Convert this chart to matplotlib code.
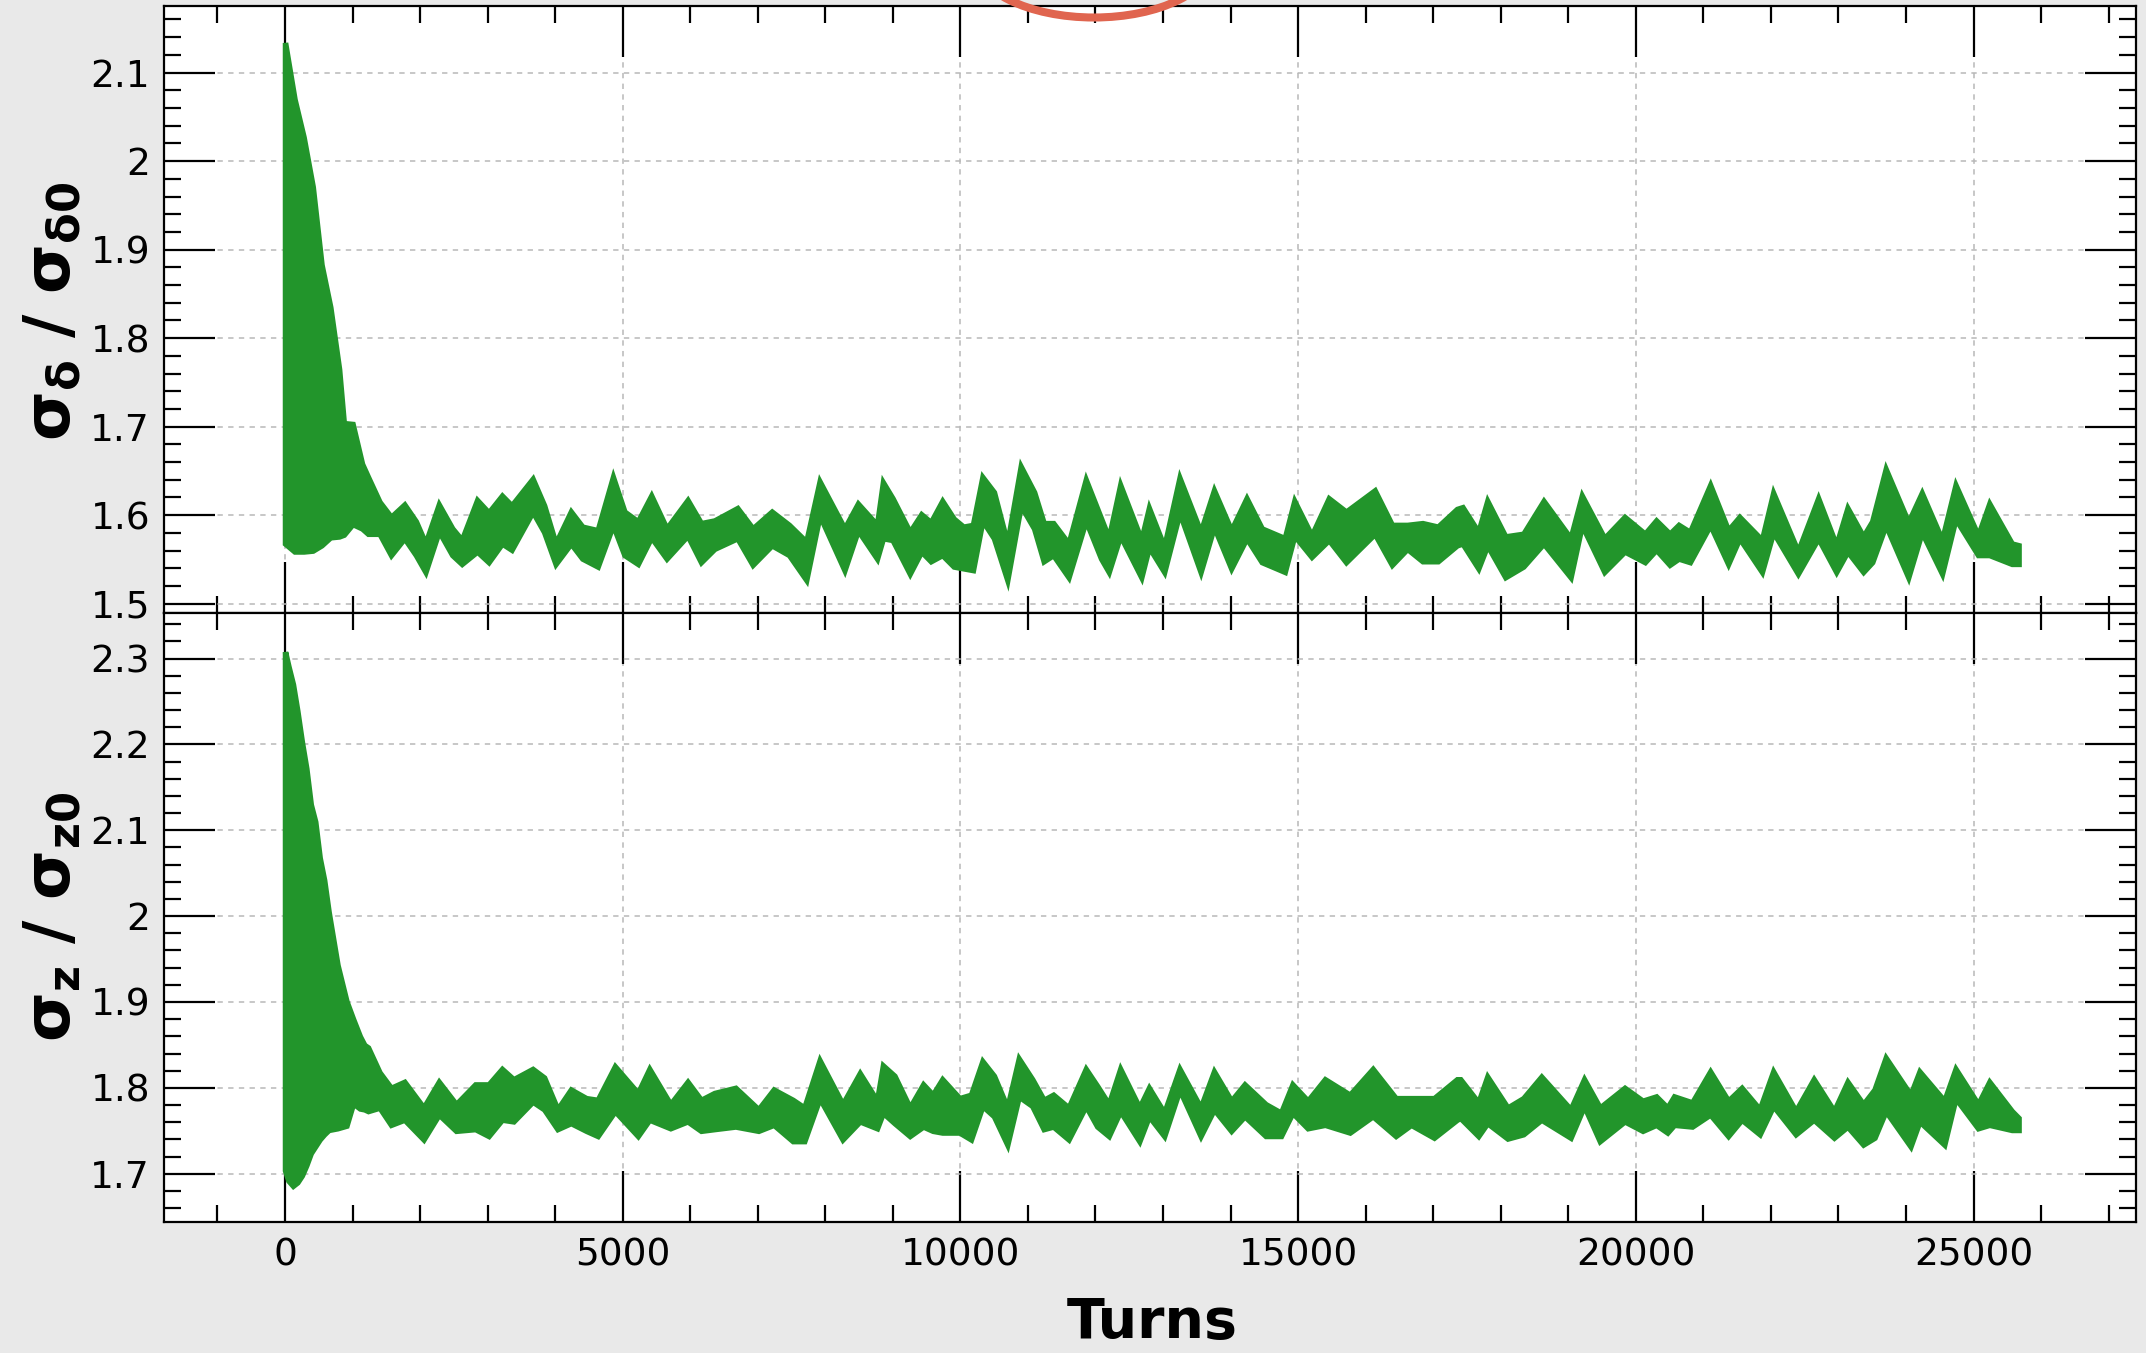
import matplotlib
matplotlib.use('Agg')
import matplotlib.pyplot as plt
from matplotlib.ticker import MultipleLocator, FixedLocator, FixedFormatter
from matplotlib.patches import Ellipse

# ---------------- data ----------------
turns_top = [0, 140, 275, 410, 540, 670, 800, 870, 1000, 1140,
             1229, 1399, 1569, 1767, 1937, 2079, 2277, 2476, 2617, 2844,
             3014, 3212, 3354, 3666, 3836, 4006, 4232, 4402, 4629, 4855,
             5025, 5224, 5422, 5649, 5960, 6159, 6357, 6697, 6924, 7207,
             7462, 7717, 7915, 8283, 8482, 8765,
             8853, 8995, 9250, 9420, 9561, 9731, 9901, 10043, 10185, 10326,
             10496, 10694, 10893, 11091, 11233, 11374, 11601, 11856, 12083, 12196,
             12366, 12678, 12791, 13017, 13244, 13556, 13754, 14009, 14236, 14462,
             14802, 14944, 15199, 15454, 15709, 16134, 16389, 16615, 16842, 17069,
             17352,
             17434, 17668, 17801, 18068, 18334, 18634, 19034, 19201, 19534, 19834,
             20134, 20301, 20501, 20634, 20801, 21101, 21367, 21534, 21867, 22034,
             22400, 22700, 22967, 23134, 23367, 23500, 23700, 24034, 24234, 24534,
             24734, 25067, 25234, 25567, 25667]
top_hi = [2.134, 2.070, 2.027, 1.971, 1.883, 1.835, 1.765, 1.704, 1.703, 1.658,
          1.643, 1.615, 1.598, 1.612, 1.593, 1.568, 1.612, 1.585, 1.572, 1.617,
          1.603, 1.622, 1.611, 1.641, 1.611, 1.568, 1.604, 1.587, 1.583, 1.643,
          1.604, 1.593, 1.622, 1.585, 1.617, 1.591, 1.594, 1.608, 1.585, 1.604,
          1.589, 1.570, 1.638, 1.585, 1.613, 1.589,
          1.637, 1.619, 1.581, 1.601, 1.592, 1.616, 1.596, 1.587, 1.589, 1.643,
          1.626, 1.568, 1.655, 1.626, 1.591, 1.591, 1.568, 1.640, 1.596, 1.574,
          1.634, 1.572, 1.608, 1.564, 1.642, 1.581, 1.628, 1.583, 1.619, 1.585,
          1.574, 1.616, 1.577, 1.619, 1.604, 1.628, 1.589, 1.589, 1.591, 1.587,
          1.607,
          1.609, 1.581, 1.616, 1.576, 1.579, 1.616, 1.574, 1.622, 1.574, 1.598,
          1.579, 1.594, 1.579, 1.589, 1.581, 1.634, 1.583, 1.598, 1.572, 1.625,
          1.559, 1.619, 1.566, 1.608, 1.576, 1.593, 1.652, 1.592, 1.625, 1.572,
          1.634, 1.577, 1.613, 1.568, 1.566]
top_lo = [1.568, 1.559, 1.559, 1.560, 1.566, 1.575, 1.576, 1.578, 1.590, 1.585,
          1.579, 1.579, 1.555, 1.574, 1.555, 1.536, 1.582, 1.555, 1.545, 1.559,
          1.547, 1.568, 1.561, 1.604, 1.581, 1.545, 1.568, 1.551, 1.542, 1.589,
          1.555, 1.545, 1.575, 1.551, 1.577, 1.547, 1.562, 1.574, 1.544, 1.566,
          1.555, 1.527, 1.600, 1.538, 1.583, 1.551,
          1.574, 1.572, 1.534, 1.559, 1.548, 1.555, 1.542, 1.540, 1.538, 1.594,
          1.574, 1.527, 1.611, 1.585, 1.548, 1.555, 1.530, 1.594, 1.551, 1.536,
          1.577, 1.530, 1.564, 1.536, 1.603, 1.536, 1.587, 1.540, 1.574, 1.547,
          1.536, 1.577, 1.553, 1.572, 1.547, 1.579, 1.544, 1.562, 1.548, 1.548,
          1.566,
          1.568, 1.540, 1.566, 1.530, 1.542, 1.568, 1.530, 1.589, 1.536, 1.559,
          1.547, 1.561, 1.544, 1.551, 1.547, 1.589, 1.545, 1.574, 1.536, 1.581,
          1.534, 1.574, 1.536, 1.559, 1.536, 1.547, 1.589, 1.530, 1.581, 1.534,
          1.596, 1.555, 1.555, 1.545, 1.545]

turns_bot = [0, 50, 117, 182, 249, 315, 381, 447, 513, 579,
             645, 711, 777, 909, 1008, 1108, 1174,
             1229, 1399, 1569, 1767, 2051, 2277, 2532, 2816, 3014, 3212,
             3382, 3666, 3836, 4034, 4232, 4459, 4629, 4884, 5224, 5394,
             5705, 5960, 6159, 6357, 6669, 7009, 7235, 7518, 7688, 7915,
             8255, 8510, 8765,
             8853, 9023, 9250, 9448, 9590, 9731, 9986, 10156, 10326, 10496,
             10694, 10864, 11063, 11233, 11374, 11601, 11856, 12026, 12196, 12366,
             12649, 12791, 13017, 13244, 13556, 13754, 14009, 14207, 14519, 14746,
             14916, 15142, 15397, 15765, 16105, 16445, 16672, 17012, 17352,
             17401, 17668, 17801, 18101, 18334, 18601, 19034, 19234, 19467, 19834,
             20101, 20301, 20467, 20567, 20834, 21101, 21367, 21567, 21834, 22034,
             22367, 22634, 22934, 23134, 23367, 23534, 23700, 24067, 24200, 24567,
             24734, 25067, 25234, 25567, 25667]
bot_hi = [2.308, 2.291, 2.270, 2.239, 2.203, 2.172, 2.130, 2.110, 2.068, 2.042,
          2.005, 1.974, 1.943, 1.901, 1.880, 1.860, 1.850,
          1.847, 1.818, 1.800, 1.807, 1.777, 1.807, 1.781, 1.804, 1.804, 1.822,
          1.810, 1.822, 1.812, 1.775, 1.798, 1.788, 1.786, 1.825, 1.794, 1.822,
          1.781, 1.807, 1.786, 1.794, 1.800, 1.775, 1.798, 1.786, 1.777, 1.832,
          1.781, 1.817, 1.785,
          1.826, 1.814, 1.777, 1.804, 1.792, 1.810, 1.788, 1.792, 1.831, 1.814,
          1.777, 1.834, 1.810, 1.786, 1.792, 1.777, 1.822, 1.802, 1.781, 1.822,
          1.777, 1.800, 1.771, 1.822, 1.777, 1.819, 1.785, 1.804, 1.781, 1.771,
          1.804, 1.785, 1.810, 1.792, 1.822, 1.788, 1.788, 1.788, 1.810,
          1.810, 1.783, 1.813, 1.777, 1.788, 1.813, 1.775, 1.810, 1.777, 1.800,
          1.785, 1.790, 1.777, 1.790, 1.783, 1.819, 1.785, 1.800, 1.775, 1.819,
          1.773, 1.810, 1.773, 1.807, 1.781, 1.798, 1.835, 1.792, 1.819, 1.785,
          1.822, 1.781, 1.807, 1.773, 1.765]
bot_lo = [1.704, 1.692, 1.686, 1.690, 1.698, 1.710, 1.724, 1.732, 1.740, 1.746,
          1.751, 1.752, 1.753, 1.756, 1.782, 1.776, 1.775,
          1.773, 1.777, 1.757, 1.763, 1.740, 1.769, 1.750, 1.752, 1.744, 1.763,
          1.761, 1.784, 1.775, 1.752, 1.759, 1.750, 1.744, 1.773, 1.744, 1.763,
          1.753, 1.761, 1.750, 1.752, 1.755, 1.750, 1.757, 1.738, 1.738, 1.788,
          1.740, 1.761, 1.753,
          1.771, 1.759, 1.744, 1.755, 1.750, 1.748, 1.748, 1.740, 1.779, 1.767,
          1.734, 1.790, 1.779, 1.752, 1.755, 1.740, 1.779, 1.755, 1.744, 1.773,
          1.738, 1.767, 1.744, 1.798, 1.744, 1.775, 1.750, 1.767, 1.744, 1.744,
          1.771, 1.753, 1.757, 1.748, 1.767, 1.744, 1.757, 1.742, 1.763,
          1.765, 1.744, 1.759, 1.741, 1.746, 1.763, 1.742, 1.779, 1.738, 1.761,
          1.750, 1.757, 1.748, 1.757, 1.755, 1.769, 1.744, 1.763, 1.746, 1.779,
          1.746, 1.763, 1.742, 1.755, 1.734, 1.742, 1.773, 1.732, 1.761, 1.734,
          1.788, 1.753, 1.757, 1.751, 1.751]

x_ticks = [0, 5000, 10000, 15000, 20000, 25000]
x_tick_labels = ['0', '5000', '10000', '15000', '20000', '25000']
top_yticks = [1.5, 1.6, 1.7, 1.8, 1.9, 2.0, 2.1]
top_ytick_labels = ['1.5', '1.6', '1.7', '1.8', '1.9', '2', '2.1']
bot_yticks = [1.7, 1.8, 1.9, 2.0, 2.1, 2.2, 2.3]
bot_ytick_labels = ['1.7', '1.8', '1.9', '2', '2.1', '2.2', '2.3']

x_label = 'Turns'
top_ylabel = r'$\mathbf{\sigma_{\delta}\ /\ \sigma_{\delta 0}}$'
bot_ylabel = r'$\mathbf{\sigma_{z}\ /\ \sigma_{z0}}$'

# ---------------- style ----------------
GREEN = '#22952b'
BG = '#e9e9e9'
W, H = 2146, 1353
DPI = 100

plt.rcParams['font.family'] = ['DejaVu Sans']
plt.rcParams['mathtext.fontset'] = 'dejavusans'

fig = plt.figure(figsize=(W / DPI, H / DPI), dpi=DPI, facecolor=BG)

left = 164 / W
width = (2136 - 164) / W
top_ax = fig.add_axes([left, 1 - 613 / H, width, (613 - 6) / H])
bot_ax = fig.add_axes([left, 1 - 1222 / H, width, (1222 - 613) / H])

xlim = (-1792, 27406)
top_ylim = (1.4895, 2.1752)
bot_ylim = (1.6438, 2.353)


def style(ax, yticks, ylabels, ylim, show_x):
    ax.set_facecolor('white')
    ax.set_xlim(*xlim)
    ax.set_ylim(*ylim)
    ax.xaxis.set_major_locator(FixedLocator(x_ticks))
    ax.xaxis.set_minor_locator(MultipleLocator(1000))
    ax.yaxis.set_major_locator(FixedLocator(yticks))
    ax.yaxis.set_major_formatter(FixedFormatter(ylabels))
    ax.yaxis.set_minor_locator(MultipleLocator(0.02))
    if show_x:
        ax.xaxis.set_major_formatter(FixedFormatter(x_tick_labels))
    else:
        ax.set_xticklabels([])
    ax.tick_params(which='both', direction='in', top=True, right=True,
                   colors='black', width=1.6)
    ax.tick_params(which='major', length=37, labelsize=27, pad=11)
    ax.tick_params(which='minor', length=12)
    ax.tick_params(axis='y', which='major', pad=10)
    for s in ax.spines.values():
        s.set_linewidth(1.6)
        s.set_color('black')
    ax.grid(True, which='major', color='#b8b8b8', lw=1.1, ls=(0, (3.5, 3.5)))
    ax.set_axisbelow(True)


style(top_ax, top_yticks, top_ytick_labels, top_ylim, False)
style(bot_ax, bot_yticks, bot_ytick_labels, bot_ylim, True)

top_ax.fill_between(turns_top, top_lo, top_hi, facecolor=GREEN, lw=4,
                    edgecolor=GREEN, joinstyle='miter', zorder=2)
bot_ax.fill_between(turns_bot, bot_lo, bot_hi, facecolor=GREEN, lw=4,
                    edgecolor=GREEN, joinstyle='miter', zorder=2)

fig.text(0.537, 1 - 1338 / H, x_label, ha='center', va='baseline',
         fontsize=40, fontweight='bold')
fig.text(52 / W, 1 - 311 / H, top_ylabel, rotation=90, ha='center',
         va='center', fontsize=46)
fig.text(52 / W, 1 - 917 / H, bot_ylabel, rotation=90, ha='center',
         va='center', fontsize=46)

# partial red ellipse annotation at the top edge
ell = Ellipse((1094 / W, 1 + 42.5 / H), 240 / W, 120 / H,
              transform=fig.transFigure, fill=False, edgecolor='#e0654f',
              lw=5.8, zorder=10)
fig.add_artist(ell)

fig.savefig('out.png', dpi=DPI, facecolor=BG)
